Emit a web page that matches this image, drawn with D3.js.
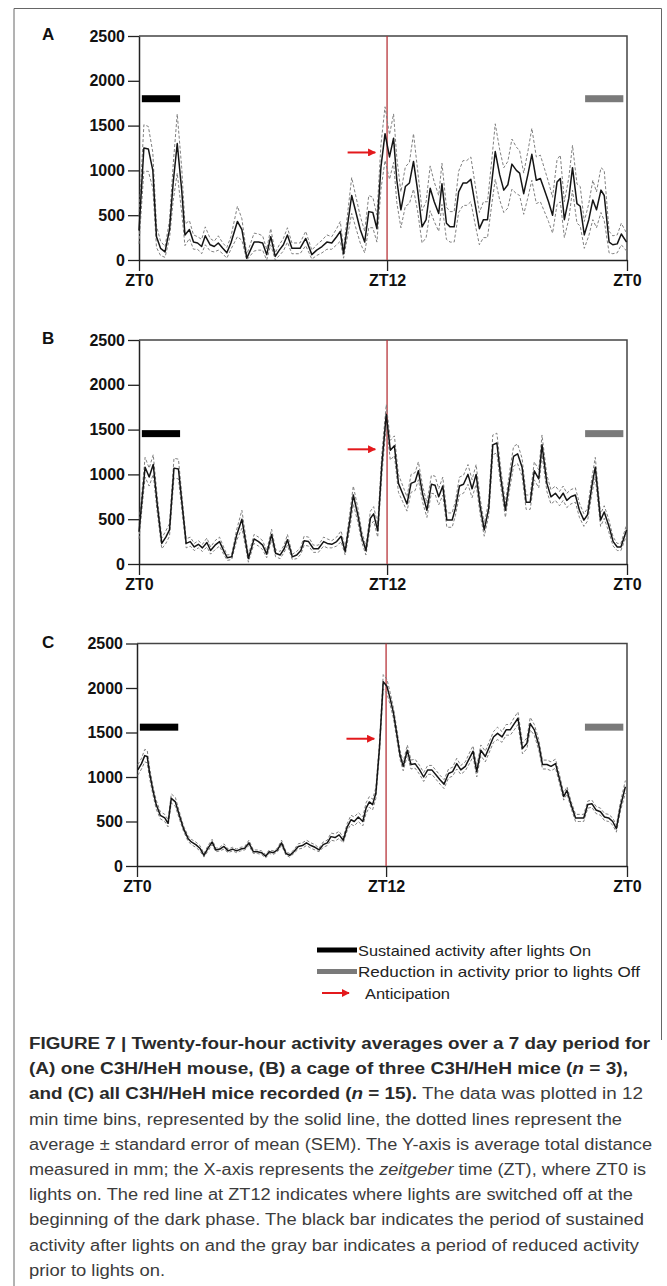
<!DOCTYPE html>
<html>
<head>
<meta charset="utf-8">
<script src="https://cdn.jsdelivr.net/npm/d3@7/dist/d3.min.js"></script>
<style>
  body { margin: 0; background: #fff; }
  svg text { font-family: "Liberation Sans", Arial, sans-serif; }
</style>
</head>
<body>
<svg id="fig" width="667" height="1286"></svg>
<script>
// x values are 12 min bins (120 per day), y values are distance in mm

// panel A, one mouse
var binA = [
  0,1.2,2.3,3.4,4.3,5.3,6.4,7.5,8.4,9.4,
  10.5,11.3,12.4,13.4,14.4,15.4,16.3,17.5,18.5,19.5,
  20.6,21.6,22.6,24.2,25.3,26.5,28.3,29.4,30.4,31.4,
  32.4,33.5,34.5,35.5,36.5,37.6,39.6,41.0,42.5,43.7,
  45.0,46.2,47.4,48.6,49.5,50.3,52.3,54.4,55.5,56.5,
  57.5,58.5,59.5,60.5,61.6,62.6,63.4,64.4,65.5,66.5,
  67.5,68.5,69.6,70.6,71.6,72.6,73.7,74.5,75.6,76.5,
  77.5,78.6,79.7,80.6,81.6,82.7,83.7,84.7,85.7,86.8,
  87.6,88.7,89.7,90.7,91.7,92.8,93.6,94.6,95.7,96.6,
  97.7,98.7,99.7,100.7,101.7,102.8,103.6,104.6,105.7,106.6,
  107.7,108.5,109.5,110.6,111.6,112.5,113.6,114.4,115.6,116.5,
  117.6,118.6,119.9];
var meanA = [
  330,1250,1240,1000,260,130,90,340,860,1300,
  780,280,340,200,190,150,270,170,150,190,
  130,80,190,430,340,20,200,200,190,60,
  260,40,110,170,280,130,130,240,60,110,
  150,200,190,260,320,70,720,340,200,540,
  530,350,1040,1410,1150,1360,890,560,820,860,
  1100,780,370,450,800,650,520,850,410,370,
  370,760,860,860,900,610,350,450,450,890,
  1210,950,780,840,1070,1000,970,740,970,1180,
  890,910,780,650,500,870,910,450,690,1030,
  630,600,280,450,670,560,780,720,200,170,
  180,290,200];
var semA = [
  150,260,250,200,120,80,60,100,200,330,
  250,120,100,80,70,80,100,70,60,80,
  60,60,70,170,120,40,100,90,80,60,
  90,40,60,70,80,60,60,80,50,60,
  70,80,70,90,110,50,200,150,120,180,
  170,150,250,300,250,270,250,200,220,230,
  310,230,180,200,250,220,200,230,180,170,
  170,230,250,250,250,220,180,200,200,250,
  310,280,250,260,280,260,250,230,260,290,
  260,260,240,220,200,250,260,200,230,250,
  220,220,150,180,220,200,250,280,120,100,
  100,120,100];

// panel B, one cage (n = 3)
var binB = [
  0,1.5,2.5,3.5,4.5,5.6,6.6,7.5,8.6,9.7,
  10.7,11.6,12.6,13.6,14.6,15.6,16.7,17.6,18.7,19.8,
  20.8,21.7,22.8,24.0,25.3,26.9,28.3,29.4,30.4,31.4,
  32.6,33.6,34.7,35.7,36.5,37.7,38.8,39.8,40.6,41.7,
  42.9,44.1,45.4,46.3,47.4,48.6,49.7,50.7,51.8,52.7,
  53.8,54.8,55.8,56.9,57.7,58.7,59.7,60.8,61.8,62.8,
  63.8,64.8,65.9,66.9,67.9,68.7,69.8,70.8,71.9,72.8,
  73.7,74.7,75.7,77.0,77.8,78.8,79.8,80.9,81.9,82.9,
  83.9,84.9,86.0,87.0,88.0,89.0,90.1,91.1,92.1,93.1,
  94.2,95.2,96.2,97.2,98.3,99.1,100.3,101.3,102.4,103.4,
  104.3,105.2,106.2,107.3,108.3,109.4,110.3,111.4,112.2,113.5,
  114.4,115.5,116.6,117.6,118.5,119.9];
var meanB = [
  360,1080,970,1110,660,230,300,380,1070,1060,
  620,230,250,190,220,180,240,150,210,250,
  150,70,80,320,500,60,280,250,210,110,
  330,120,100,170,270,80,100,150,260,250,
  170,170,250,230,220,250,310,140,470,770,
  550,300,150,510,560,370,1100,1670,1270,1320,
  900,790,670,900,920,1040,770,600,890,880,
  750,870,490,490,620,870,890,1000,840,1000,
  640,380,620,1330,1350,950,600,920,1200,1230,
  1080,690,690,1040,950,1330,900,750,790,730,
  790,710,750,770,600,490,550,880,1080,490,
  580,430,250,190,190,380];
var semB = [
  80,110,100,110,90,60,70,70,110,110,
  80,50,50,40,40,40,50,40,50,50,
  40,30,30,60,100,40,50,50,50,40,
  60,40,40,40,60,30,40,40,50,50,
  40,40,50,50,40,50,60,40,90,100,
  80,60,50,80,80,70,120,110,110,110,
  100,90,80,100,100,100,90,80,100,100,
  90,100,80,80,80,100,100,110,100,110,
  90,70,80,110,110,100,80,100,110,110,
  100,80,80,100,100,110,90,80,80,80,
  80,80,80,80,80,70,70,90,110,70,
  70,70,50,40,40,60];

// panel C, all mice (n = 15)
var binC = [
  0.2,1.1,1.9,2.5,3.1,3.9,4.7,5.7,6.8,7.6,
  8.4,9.4,10.5,11.4,12.5,13.3,14.4,15.4,16.4,17.4,
  18.4,19.3,20.3,21.3,22.3,23.4,24.4,25.4,26.4,27.4,
  28.5,29.5,30.5,31.5,32.4,33.4,34.4,35.4,36.5,37.4,
  38.4,39.5,40.5,41.5,42.6,43.6,44.6,45.6,46.6,47.5,
  48.5,49.5,50.5,51.5,52.4,53.2,54.2,55.3,56.1,56.9,
  57.7,58.5,59.4,60.3,61.2,62.0,62.8,63.6,64.4,65.2,
  66.2,67.1,68.1,69.2,70.2,71.2,72.2,73.3,74.2,75.2,
  76.3,77.3,78.3,79.3,80.4,81.4,82.3,83.2,84.2,85.3,
  86.3,87.3,88.3,89.4,90.4,91.4,92.4,93.3,94.4,95.5,
  96.3,97.3,98.4,99.3,100.4,101.4,102.5,103.5,104.5,105.3,
  106.3,107.4,108.3,109.4,110.4,111.4,112.4,113.5,114.5,115.5,
  116.5,117.4,118.4,119.6];
var meanC = [
  1080,1150,1240,1230,1040,850,690,570,540,480,
  760,720,550,420,310,270,240,200,120,200,
  270,180,190,220,170,190,170,190,200,260,
  160,160,150,110,160,150,180,260,140,120,
  160,220,230,260,230,210,180,240,260,330,
  320,350,290,440,520,500,550,500,650,720,
  690,820,1340,2070,2020,1880,1720,1490,1250,1120,
  1300,1140,1150,1080,1000,1080,1080,1020,970,920,
  1040,1060,1150,1080,1120,1210,1290,1060,1300,1230,
  1340,1450,1490,1450,1530,1530,1600,1660,1320,1380,
  1600,1530,1360,1140,1140,1120,1150,970,780,850,
  690,540,540,540,690,700,630,610,550,540,
  500,420,670,890];
var semC = [
  60,60,70,70,60,50,50,40,40,40,
  50,50,40,30,30,30,30,30,20,30,
  30,20,20,30,20,20,20,20,20,30,
  20,20,20,20,20,20,20,30,20,20,
  20,30,30,30,30,30,20,30,30,40,
  40,40,30,40,50,50,50,50,60,60,
  60,60,60,80,80,70,60,60,50,50,
  60,50,50,50,50,50,50,50,50,50,
  50,50,60,50,50,60,60,60,60,60,
  60,60,70,60,60,60,70,70,60,60,
  70,60,60,50,50,50,50,50,40,40,
  40,40,40,40,40,40,40,40,40,40,
  40,40,50,70];

// annotations (bins / mm)
var yTicks = [0, 500, 1000, 1500, 2000, 2500];
var ztBins = [0, 61, 120];
var ztLabels = ["ZT0", "ZT12", "ZT0"];
var lightsOffBin = 61;
var blackBar = [0.7, 10.1];
var grayBar = [109.7, 119.1];
var barLevel = [1800, 1455, 1560];
var arrowBins = [51.3, 58.1];
var arrowLevel = [1200, 1280, 1430];
var legendLabels = ["Sustained activity after lights On",
                    "Reduction in activity prior to lights Off",
                    "Anticipation"];

var panels = [
  {letter: "A", bin: binA, mean: meanA, sem: semA, left: 139, right: 627, top: 36, bottom: 260},
  {letter: "B", bin: binB, mean: meanB, sem: semB, left: 139, right: 627, top: 340, bottom: 564},
  {letter: "C", bin: binC, mean: meanC, sem: semC, left: 137, right: 627, top: 643.5, bottom: 866}
];

var svg = d3.select("#fig");
var red = "#e3191c";

// figure frame
svg.append("path")
  .attr("d", "M14,1286 V8.5 H661.5 V1040")
  .attr("fill", "none").attr("stroke", "#666").attr("stroke-width", 1);

svg.append("defs").append("marker")
  .attr("id", "arrowhead")
  .attr("viewBox", "0 0 10 10")
  .attr("refX", 9).attr("refY", 5)
  .attr("markerWidth", 4).attr("markerHeight", 4)
  .attr("orient", "auto")
  .append("path").attr("d", "M0,0 L10,5 L0,10 z").attr("fill", red);

panels.forEach(function (p, k) {
  var x = d3.scaleLinear().domain([0, 120]).range([p.left, p.right]);
  var y = d3.scaleLinear().domain([0, 2500]).range([p.bottom, p.top]);
  var g = svg.append("g");

  // box top + right
  g.append("path")
    .attr("d", "M" + p.left + "," + p.top + " H" + p.right + " V" + p.bottom)
    .attr("fill", "none").attr("stroke", "#444").attr("stroke-width", 1.5);

  var yAxis = g.append("g")
    .attr("transform", "translate(" + p.left + ",0)")
    .call(d3.axisLeft(y).tickValues(yTicks).tickFormat(d3.format("d"))
      .tickSize(11).tickSizeOuter(0).tickPadding(3));
  var xAxis = g.append("g")
    .attr("transform", "translate(0," + p.bottom + ")")
    .call(d3.axisBottom(x).tickValues(ztBins).tickSize(11).tickSizeOuter(0).tickPadding(4)
      .tickFormat(function (d, i) { return ztLabels[i]; }));
  [yAxis, xAxis].forEach(function (a) {
    a.select(".domain").attr("stroke", "#222").attr("stroke-width", 1.5);
    a.selectAll(".tick line").attr("stroke", "#222").attr("stroke-width", 1.3);
    a.selectAll(".tick text").attr("fill", "#111")
      .style("font-size", "16px").style("font-weight", "bold");
  });

  g.append("text")
    .attr("x", 42).attr("y", p.top + 4)
    .style("font-size", "17px").style("font-weight", "bold").attr("fill", "#111")
    .text(p.letter);

  // lights off line
  g.append("line")
    .attr("x1", x(lightsOffBin)).attr("x2", x(lightsOffBin))
    .attr("y1", p.top).attr("y2", p.bottom)
    .attr("stroke", "#b8343a").attr("stroke-width", 1.3);

  var pts = p.mean.map(function (m, i) { return {b: p.bin[i], m: m, s: p.sem[i]}; });
  var lineOf = function (f) {
    return d3.line().x(function (d) { return x(d.b); }).y(function (d) { return y(f(d)); });
  };
  g.append("path").datum(pts)
    .attr("d", lineOf(function (d) { return d.m + d.s; }))
    .attr("fill", "none").attr("stroke", "#808080").attr("stroke-width", 1)
    .attr("stroke-dasharray", "3,2");
  g.append("path").datum(pts)
    .attr("d", lineOf(function (d) { return Math.max(0, d.m - d.s); }))
    .attr("fill", "none").attr("stroke", "#808080").attr("stroke-width", 1)
    .attr("stroke-dasharray", "3,2");
  g.append("path").datum(pts)
    .attr("d", lineOf(function (d) { return d.m; }))
    .attr("fill", "none").attr("stroke", "#151515").attr("stroke-width", 1.5)
    .attr("stroke-linejoin", "round");

  // bars
  g.append("rect")
    .attr("x", x(blackBar[0])).attr("width", x(blackBar[1]) - x(blackBar[0]))
    .attr("y", y(barLevel[k]) - 3.5).attr("height", 7).attr("fill", "#000");
  g.append("rect")
    .attr("x", x(grayBar[0])).attr("width", x(grayBar[1]) - x(grayBar[0]))
    .attr("y", y(barLevel[k]) - 3.5).attr("height", 7).attr("fill", "#7a7a7a");

  // anticipation arrow
  g.append("line")
    .attr("x1", x(arrowBins[0])).attr("x2", x(arrowBins[1]))
    .attr("y1", y(arrowLevel[k])).attr("y2", y(arrowLevel[k]))
    .attr("stroke", red).attr("stroke-width", 2)
    .attr("marker-end", "url(#arrowhead)");
});

// legend
var legendWidths = [233, 282, 85];
var legend = svg.append("g").attr("transform", "translate(317,950)");
legendLabels.forEach(function (t, i) {
  var row = legend.append("g").attr("transform", "translate(0," + (i * 21.5) + ")");
  if (i < 2) {
    row.append("rect").attr("x", 0).attr("y", -2.5).attr("width", 40).attr("height", 5)
      .attr("fill", i == 0 ? "#000" : "#7a7a7a");
  } else {
    row.append("line").attr("x1", 5).attr("x2", 32).attr("y1", 0).attr("y2", 0)
      .attr("stroke", red).attr("stroke-width", 2).attr("marker-end", "url(#arrowhead)");
  }
  row.append("text").attr("x", i < 2 ? 41 : 48).attr("y", 5.5)
    .attr("textLength", legendWidths[i]).attr("lengthAdjust", "spacingAndGlyphs")
    .style("font-size", "15px").attr("fill", "#222").text(t);
});

// caption, one entry per printed line: [text, style]
var captionLines = [
  [["FIGURE 7 | Twenty-four-hour activity averages over a 7 day period for", "b"]],
  [["(A) one C3H/HeH mouse, (B) a cage of three C3H/HeH mice (", "b"], ["n", "bi"], [" = 3),", "b"]],
  [["and (C) all C3H/HeH mice recorded (", "b"], ["n", "bi"], [" = 15).", "b"], [" The data was plotted in 12", "r"]],
  [["min time bins, represented by the solid line, the dotted lines represent the", "r"]],
  [["average \u00b1 standard error of mean (SEM). The Y-axis is average total distance", "r"]],
  [["measured in mm; the X-axis represents the ", "r"], ["zeitgeber", "i"], [" time (ZT), where ZT0 is", "r"]],
  [["lights on. The red line at ZT12 indicates where lights are switched off at the", "r"]],
  [["beginning of the dark phase. The black bar indicates the period of sustained", "r"]],
  [["activity after lights on and the gray bar indicates a period of reduced activity", "r"]],
  [["prior to lights on.", "r"]]
];
var captionEnds = [650, 628, 643, 622, 652, 646, 633, 644, 639, 165];

captionLines.forEach(function (line, i) {
  var t = svg.append("text")
    .attr("x", 29).attr("y", 1049 + i * 25.2)
    .attr("textLength", captionEnds[i] - 29)
    .attr("lengthAdjust", "spacingAndGlyphs")
    .style("font-size", "16px");
  line.forEach(function (seg) {
    t.append("tspan")
      .style("font-weight", seg[1].indexOf("b") >= 0 ? "bold" : "normal")
      .style("font-style", seg[1].indexOf("i") >= 0 ? "italic" : "normal")
      .attr("fill", seg[1].indexOf("b") >= 0 ? "#2a2a2a" : "#3c3c3c")
      .text(seg[0]);
  });
});
</script>
</body>
</html>
